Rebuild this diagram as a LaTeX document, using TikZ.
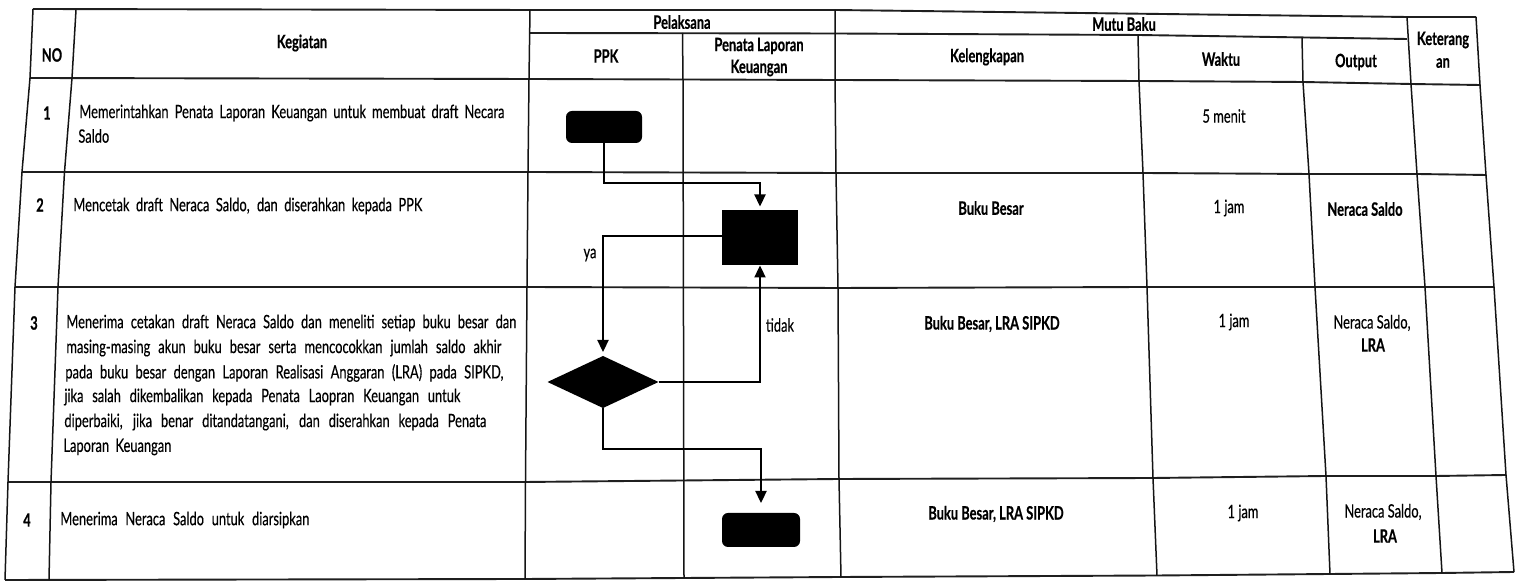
\documentclass[tikz,border=0pt]{standalone}
\usepackage{fontspec}
\setmainfont[FakeStretch=0.7,FakeBold=0.35,BoldFeatures={FakeBold=0.5}]{Lato}
\usetikzlibrary{arrows.meta,shapes.geometric}
\tikzset{
  grid/.style={line width=0.95pt,black!88,line join=round},
  vline/.style={line width=0.75pt,black!92,line join=round},
  conn/.style={line width=0.75pt,black,-{Triangle[length=6pt,width=5.6pt]}},
  blackshape/.style={fill=black,draw=none,inner sep=0pt,outer sep=0pt},
  roundbox/.style={blackshape,rectangle,rounded corners=3pt},
  lbl/.style={font=\fontsize{9.2pt}{11pt}\selectfont,inner sep=0pt,text=black,anchor=center},
  lft/.style={lbl,anchor=west},
  hd/.style={lbl,font=\fontsize{9.2pt}{11pt}\selectfont\bfseries},
}
\newcommand{\fit}[2]{\makebox[\dimexpr #1pt/2\relax][s]{#2}}
\begin{document}
\begin{tikzpicture}[x=0.5pt,y=-0.5pt]
\path[use as bounding box,fill=white] (0,0) rectangle (1522,581);
% horizontal rules
\draw[grid] (33,9) -- (530,10) -- (835,10) -- (1407,17) -- (1476,17);
\draw[grid] (530,33) -- (835,33.5) -- (1138,35) -- (1407,39);
\draw[grid] (30,78) -- (529,79) -- (835,80) -- (1139,81) -- (1303,82) -- (1411,84) -- (1480,85);
\draw[grid] (22,172) -- (528,172) -- (836,173) -- (1143,173) -- (1309,174) -- (1417,174) -- (1486,175);
\draw[grid] (15,287) -- (527,287) -- (838,288) -- (1147,287) -- (1315,287) -- (1425,287) -- (1494,287);
\draw[grid] (8,482) -- (525,482) -- (839,479) -- (1153,478) -- (1326,476) -- (1436,476) -- (1506,475);
\draw[grid] (5,580) -- (525,579) -- (684,578) -- (841,577) -- (1157,575.5) -- (1330,574) -- (1442,573) -- (1514,572);
% vertical rules
\draw[vline] (33,9) -- (30,78) -- (22,172) -- (15,287) -- (8,482) -- (5,580);
\draw[vline] (76,10) -- (72,78) -- (64.5,172) -- (58,287) -- (51,482) -- (49,580);
\draw[vline] (530,10) -- (529,79) -- (528,172) -- (527,287) -- (525.5,482) -- (525,579);
\draw[vline] (682.5,33) -- (683,80) -- (684,578);
\draw[vline] (835,10) -- (835,80) -- (836,173) -- (838,288) -- (839,479) -- (841,577);
\draw[vline] (1138,35) -- (1139,81) -- (1143,173) -- (1147,287) -- (1153,478) -- (1157,575.5);
\draw[vline] (1302,38) -- (1303,82) -- (1309,174) -- (1315,287) -- (1326,476) -- (1330,574);
\draw[vline] (1407,17) -- (1411,84) -- (1417,174) -- (1425,287) -- (1436,476) -- (1442,573);
\draw[vline] (1476,17) -- (1480,85) -- (1486,175) -- (1494,287) -- (1506,475) -- (1514,572);
% header
\node[hd] (hno) at (52,55) {NO};
\node[hd] (hkeg) at (302,43) {Kegiatan};
\node[hd] (hpel) at (682,22) {Pelaksana};
\node[hd] (hppk) at (606,56) {PPK};
\node[hd] (hpen) at (759,46) {Penata Laporan};
\node[hd] (hkeu) at (759,68) {Keuangan};
\node[hd] (hmut) at (1124,24) {Mutu Baku};
\node[hd] (hkel) at (987,57) {Kelengkapan};
\node[hd] (hwak) at (1221,59) {Waktu};
\node[hd] (hout) at (1356,62) {Output};
\node[hd] (hket) at (1443,40) {Keterang};
\node[hd] (han) at (1443,63) {an};
% row numbers
\node[hd] (n1) at (47,113) {1};
\node[hd] (n2) at (40,205) {2};
\node[hd] (n3) at (34,323) {3};
\node[hd] (n4) at (27,520) {4};
% activity text
\node[lft] (a1a) at (79,113) {\fit{425}{Memerintahkan Penata Laporan Keuangan untuk membuat draft Necara}};
\node[lft] (a1b) at (78,136) {Saldo};
\node[lft] (a2) at (73,206) {\fit{349}{Mencetak draft Neraca Saldo, dan diserahkan kepada PPK}};
\node[lft] (a3a) at (66,323) {\fit{450}{Menerima cetakan draft Neraca Saldo dan meneliti setiap buku besar dan}};
\node[lft] (a3b) at (66,348) {\fit{435}{masing-masing akun buku besar serta mencocokkan jumlah saldo akhir}};
\node[lft] (a3c) at (65,373) {\fit{438}{pada buku besar dengan Laporan Realisasi Anggaran (LRA) pada SIPKD,}};
\node[lft] (a3d) at (64,397) {\fit{396}{jika salah dikembalikan kepada Penata Laopran Keuangan untuk}};
\node[lft] (a3e) at (64,422) {\fit{422}{diperbaiki, jika benar ditandatangani, dan diserahkan kepada Penata}};
\node[lft] (a3f) at (63,447) {\fit{108}{Laporan Keuangan}};
\node[lft] (a4) at (60,520) {\fit{249}{Menerima Neraca Saldo untuk diarsipkan}};
% standards
\node[lbl] (w1) at (1224,116) {5 menit};
\node[hd] (k2) at (991,208) {Buku Besar};
\node[lbl] (w2) at (1229,208) {1 jam};
\node[hd] (o2) at (1365,209) {Neraca Saldo};
\node[hd] (k3) at (992,324) {Buku Besar, LRA SIPKD};
\node[lbl] (w3) at (1234,322) {1 jam};
\node[lbl] (o3a) at (1372,323) {Neraca Saldo,};
\node[hd] (o3b) at (1373,345) {LRA};
\node[hd] (k4) at (996,514) {Buku Besar, LRA SIPKD};
\node[lbl] (w4) at (1243,513) {1 jam};
\node[lbl] (o4a) at (1383,512) {Neraca Saldo,};
\node[hd] (o4b) at (1385,536) {LRA};
% flow shapes
\node[roundbox,minimum width=38pt,minimum height=16pt] (s1) at (604,127) {};
\node[blackshape,rectangle,minimum width=38pt,minimum height=27.5pt] (r2) at (760,238) {};
\node[blackshape,diamond,shape aspect=2.12,minimum width=55.5pt,minimum height=26pt] (d3) at (603,382) {};
\node[roundbox,minimum width=39pt,minimum height=17pt] (e4) at (761,530) {};
\coordinate (k12) at (760,183);
\coordinate (k34) at (761,449);
\coordinate (k2y) at (603,236);
% connectors
\draw[conn,shorten >=2pt] (s1.south) |- (k12) -- (r2.north);
\draw[conn,shorten >=2pt] (r2.west |- k2y) -- (k2y) -- (d3.north);
\draw[conn] (d3.east) -| (r2.south);
\draw[conn,shorten >=5pt] (d3.south) |- (k34) -- (e4.north);
% flow labels
\node[lbl] (ya) at (590,255) {ya};
\node[lbl] (tidak) at (780,325) {tidak};
\end{tikzpicture}
\end{document}
